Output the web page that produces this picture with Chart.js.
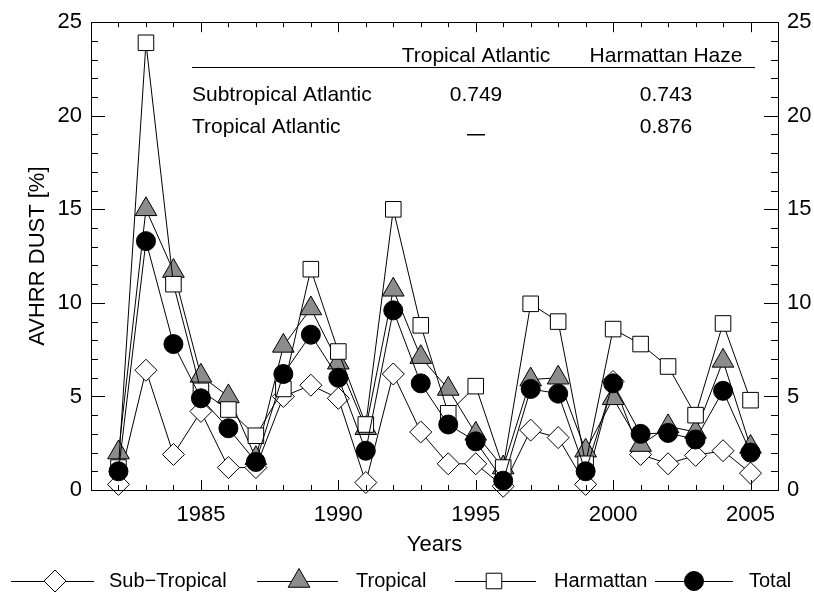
<!DOCTYPE html>
<html><head><meta charset="utf-8">
<style>html,body{margin:0;padding:0;background:#fff;}#wrap{width:814px;height:595px;position:relative;}</style>
<script src="https://cdn.jsdelivr.net/npm/chart.js"></script>
</head><body><div id="wrap"><canvas id="c" width="814" height="595"></canvas></div>
<script>
const years = [1982,1983,1984,1985,1986,1987,1988,1989,1990,1991,1992,1993,1994,1995,1996,1997,1998,1999,2000,2001,2002,2003,2004,2005];
const subTropical = [0.3,6.4,1.9,4.2,1.2,1.2,5.0,5.6,4.9,0.4,6.2,3.1,1.4,1.4,0.2,3.2,2.8,0.3,5.8,1.9,1.4,1.85,2.1,0.9];
const tropical = [2.0,15.0,11.7,6.1,5.0,1.7,7.7,9.7,6.8,3.3,10.7,7.1,5.4,3.0,1.2,5.9,6.0,2.1,4.9,2.4,3.4,3.1,6.9,2.3];
const harmattan = [1.2,23.9,11.0,5.3,4.3,2.9,5.4,11.8,7.4,3.5,15.0,8.8,4.1,5.55,1.2,9.95,9.0,1.4,8.6,7.8,6.6,4.0,8.9,4.8];
const total = [1.0,13.3,7.8,4.9,3.3,1.5,6.2,8.3,6.0,2.1,9.6,5.7,3.5,2.6,0.5,5.4,5.15,1.0,5.7,3.0,3.05,2.7,5.3,2.0];
const seriesNames = ['Sub\u2212Tropical','Tropical','Harmattan','Total'];
const xTickLabels = [1985,1990,1995,2000,2005];
const yTickLabels = [0,5,10,15,20,25];
const xTitle = 'Years';
const yTitle = 'AVHRR DUST [%]';
const tableHeader = ['Tropical Atlantic','Harmattan Haze'];
const tableRowNames = ['Subtropical Atlantic','Tropical Atlantic'];
const tableValues = [['0.749','0.743'],['_','0.876']];

const FONT = '"Liberation Sans", Arial, sans-serif';
const styles = [
  {pointStyle:'rectRot', radius:11, fill:'#ffffff', order:3},
  {pointStyle:'triangle', radius:12.5, fill:'#8c8c8c', order:2},
  {pointStyle:'rect', radius:11, fill:'#ffffff', order:1},
  {pointStyle:'circle', radius:9.5, fill:'#000000', order:0}
];
const seriesValues = [subTropical, tropical, harmattan, total];

const datasets = seriesValues.map((vals, i) => ({
  label: seriesNames[i],
  data: years.map((yr, j) => ({x: yr, y: vals[j]})),
  borderColor: '#000', borderWidth: 1,
  pointStyle: styles[i].pointStyle, pointRadius: styles[i].radius,
  pointBackgroundColor: styles[i].fill, pointBorderColor: '#000', pointBorderWidth: 1,
  order: styles[i].order, fill: false, tension: 0, clip: false
}));

function drawMarker(ctx, st, x, y) {
  ctx.save();
  ctx.fillStyle = st.fill; ctx.strokeStyle = '#000'; ctx.lineWidth = 1;
  if (Chart.helpers && Chart.helpers.drawPoint) {
    Chart.helpers.drawPoint(ctx, {pointStyle: st.pointStyle, radius: st.radius, rotation: 0, borderWidth: 1}, x, y);
  }
  ctx.restore();
}

const decor = {
  id: 'decor',
  afterDraw(chart) {
    const ctx = chart.ctx, a = chart.chartArea;
    const xs = chart.scales.x, ys = chart.scales.y;
    ctx.save();
    ctx.strokeStyle = '#000'; ctx.lineWidth = 1;
    ctx.strokeRect(Math.round(a.left)+0.5, Math.round(a.top)+0.5, Math.round(a.right-a.left), Math.round(a.bottom-a.top));
    ctx.beginPath();
    for (let v = xs.min + 1; v < xs.max; v++) {
      const px = Math.round(xs.getPixelForValue(v)) + 0.5;
      const len = (v % 5 === 0) ? 10 : 5;
      ctx.moveTo(px, a.bottom); ctx.lineTo(px, a.bottom - len);
      ctx.moveTo(px, a.top); ctx.lineTo(px, a.top + len);
    }
    for (let v = ys.min + 1; v < ys.max; v++) {
      const py = Math.round(ys.getPixelForValue(v)) + 0.5;
      const len = (v % 5 === 0) ? 14 : 7;
      ctx.moveTo(a.left, py); ctx.lineTo(a.left + len, py);
      ctx.moveTo(a.right, py); ctx.lineTo(a.right - len, py);
    }
    ctx.stroke();

    ctx.fillStyle = '#000';
    ctx.font = '22px ' + FONT;
    ctx.textAlign = 'center'; ctx.textBaseline = 'middle';
    ctx.fillText(xTitle, (a.left + a.right) / 2, 545);
    ctx.save();
    ctx.translate(38, (a.top + a.bottom) / 2);
    ctx.rotate(-Math.PI / 2);
    ctx.fillText(yTitle, 0, 0);
    ctx.restore();

    // table
    ctx.font = '21px ' + FONT;
    const colX = [476, 666];
    ctx.textAlign = 'center';
    tableHeader.forEach((h, i) => ctx.fillText(h, colX[i], 56));
    ctx.beginPath(); ctx.moveTo(192, 67.5); ctx.lineTo(755, 67.5); ctx.stroke();
    const rowY = [95, 127];
    tableRowNames.forEach((r, i) => {
      ctx.textAlign = 'left'; ctx.fillText(r, 192, rowY[i]);
      ctx.textAlign = 'center';
      tableValues[i].forEach((v, k) => {
        if (v === '_') { ctx.fillRect(colX[k] - 9, rowY[i] + 7, 18, 1.5); }
        else ctx.fillText(v, colX[k], rowY[i]);
      });
    });

    // legend
    ctx.font = '20px ' + FONT;
    const legY = 581;
    const leg = [{x1:11,x2:94,mx:55,tx:109},{x1:257,x2:338,mx:299,tx:356},{x1:455,x2:536,mx:494,tx:554},{x1:655,x2:733,mx:694,tx:749}];
    leg.forEach((L, i) => {
      ctx.beginPath(); ctx.moveTo(L.x1, legY + 0.5); ctx.lineTo(L.x2, legY + 0.5); ctx.stroke();
      drawMarker(ctx, styles[i], L.mx, legY);
      ctx.fillStyle = '#000'; ctx.textAlign = 'left'; ctx.textBaseline = 'middle';
      ctx.fillText(seriesNames[i], L.tx, legY);
    });
    ctx.restore();
  }
};

const tickFont = {family: FONT, size: 22};
new Chart(document.getElementById('c'), {
  type: 'line',
  data: {datasets},
  options: {
    responsive: false, animation: false, devicePixelRatio: 1, events: [],
    layout: {padding: {top: 17, left: 0, right: 0, bottom: 0}},
    plugins: {legend: {display: false}, tooltip: {enabled: false}, title: {display: false}},
    scales: {
      x: {type: 'linear', position: 'bottom', min: 1981, max: 2006,
        afterBuildTicks: s => { s.ticks = xTickLabels.map(v => ({value: v})); },
        ticks: {autoSkip: false, maxRotation: 0, minRotation: 0, color: '#000', font: tickFont, padding: 12,
          callback: v => String(v)},
        grid: {display: false, drawTicks: false}, border: {display: false},
        afterFit: s => { s.height = 105; }},
      y: {type: 'linear', position: 'left', min: 0, max: 25,
        afterBuildTicks: s => { s.ticks = yTickLabels.map(v => ({value: v})); },
        ticks: {color: '#000', font: tickFont, padding: 9, callback: v => String(v)},
        grid: {display: false, drawTicks: false}, border: {display: false},
        afterFit: s => { s.width = 91; }},
      y2: {type: 'linear', position: 'right', min: 0, max: 25,
        afterBuildTicks: s => { s.ticks = yTickLabels.map(v => ({value: v})); },
        ticks: {color: '#000', font: tickFont, padding: 9, callback: v => String(v)},
        grid: {display: false, drawTicks: false}, border: {display: false},
        afterFit: s => { s.width = 36; }}
    }
  },
  plugins: [decor]
});
</script>
</body></html>
